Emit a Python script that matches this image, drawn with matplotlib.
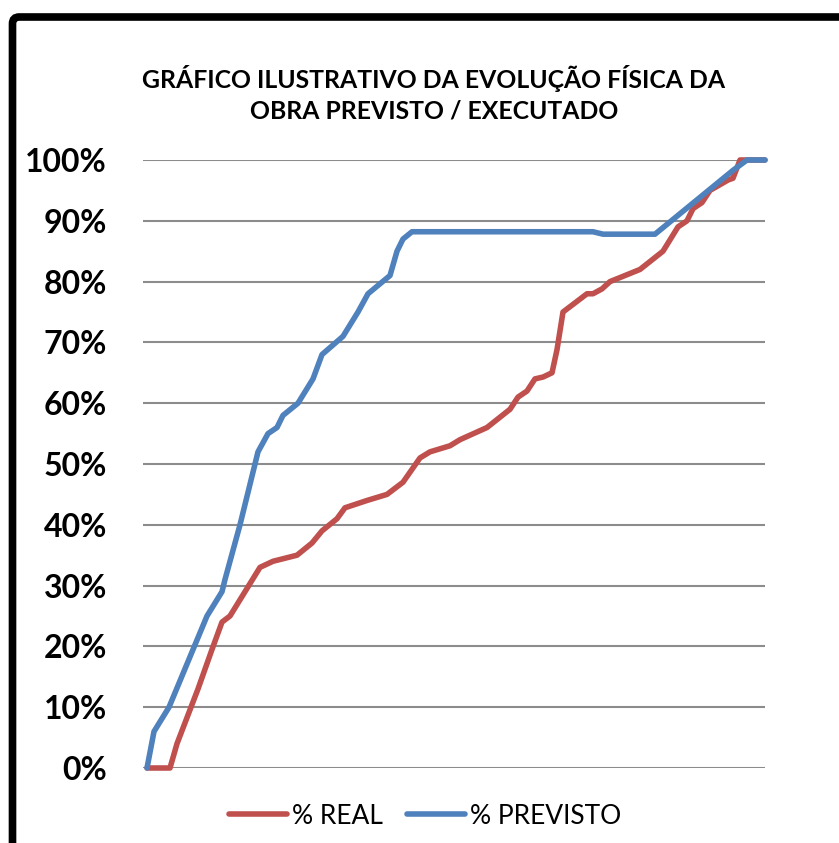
import matplotlib.pyplot as plt
from matplotlib.patches import FancyBboxPatch
from matplotlib.ticker import FuncFormatter

plt.rcParams['font.family'] = ['Lato', 'DejaVu Sans']

# dias desde o início da obra / percentual acumulado
dias_previsto = [0, 7, 22, 60, 75, 78, 93, 111, 121, 130, 136, 151, 166, 175,
                 196, 211, 221, 243, 250, 256, 265, 446, 456, 508, 586, 600, 618]
previsto = [0, 6, 10, 25, 29, 31, 40, 52, 55, 56, 58, 60, 64, 68,
            71, 75, 78, 81, 85, 87, 88.2, 88.2, 87.8, 87.8, 98.3, 100, 100]

dias_real = [0, 23, 30, 51, 65, 75, 83, 113, 126, 150, 165, 175, 190, 198,
             220, 240, 256, 273, 283, 303, 313, 340, 363, 371, 380, 388, 396,
             405, 410, 416, 440, 446, 455, 463, 493, 516, 531, 540, 546, 555,
             563, 581, 586, 593, 618]
real = [0, 0, 4, 13, 19.5, 24, 25, 33, 34, 35, 37, 39, 41, 42.8,
        44, 45, 47, 51, 52, 53, 54, 56, 59, 61, 62, 64, 64.3,
        65, 68.8, 75, 78, 78, 78.8, 80, 82, 85, 89, 90, 92, 93,
        95, 96.7, 97, 100, 100]

titulo = "GRÁFICO ILUSTRATIVO DA EVOLUÇÃO FÍSICA DA\nOBRA PREVISTO / EXECUTADO"

fig = plt.figure(figsize=(8.39, 8.43), dpi=100)
W, H = 839, 843

# moldura preta do gráfico (cortada à direita e embaixo)
frame = FancyBboxPatch((12.5 / W, -0.1), 1.2, (843 - 17) / H + 0.1,
                       boxstyle="round,pad=0,rounding_size=0.008",
                       transform=fig.transFigure, fill=False,
                       edgecolor="black", linewidth=5.5)
fig.patches.append(frame)

ax = fig.add_axes([143 / W, (843 - 768) / H, (765 - 143) / W, (768 - 160) / H])

ax.plot(dias_real, real, color="#C0504D", linewidth=4, label="% REAL",
        clip_on=False, solid_joinstyle="round", solid_capstyle="round")
ax.plot(dias_previsto, previsto, color="#4F81BD", linewidth=4, label="% PREVISTO",
        clip_on=False, solid_joinstyle="round", solid_capstyle="round")

ax.set_xlim(-4, 618)
ax.set_ylim(0, 100)
ax.set_yticks(range(0, 101, 10))
ax.yaxis.set_major_formatter(FuncFormatter(lambda v, p: f"{int(v)}%"))
ax.set_xticks([])
ax.tick_params(axis="y", length=0, pad=26, labelsize=23)
for lbl in ax.get_yticklabels():
    lbl.set_fontweight("bold")
ax.grid(axis="y", color="#8C8C8C", linewidth=1.5)
ax.set_axisbelow(True)
for s in ax.spines.values():
    s.set_visible(False)

fig.text(434 / W, 1 - 94 / H, titulo, ha="center", va="center",
         fontsize=17.8, fontweight="bold", linespacing=1.4)

fig.legend(loc="center", bbox_to_anchor=(425 / W, 1 - 816 / H), ncol=2,
           frameon=False, fontsize=19, handlelength=2.2, columnspacing=0.9,
           handletextpad=0.2)

fig.savefig("out.png", dpi=100)
